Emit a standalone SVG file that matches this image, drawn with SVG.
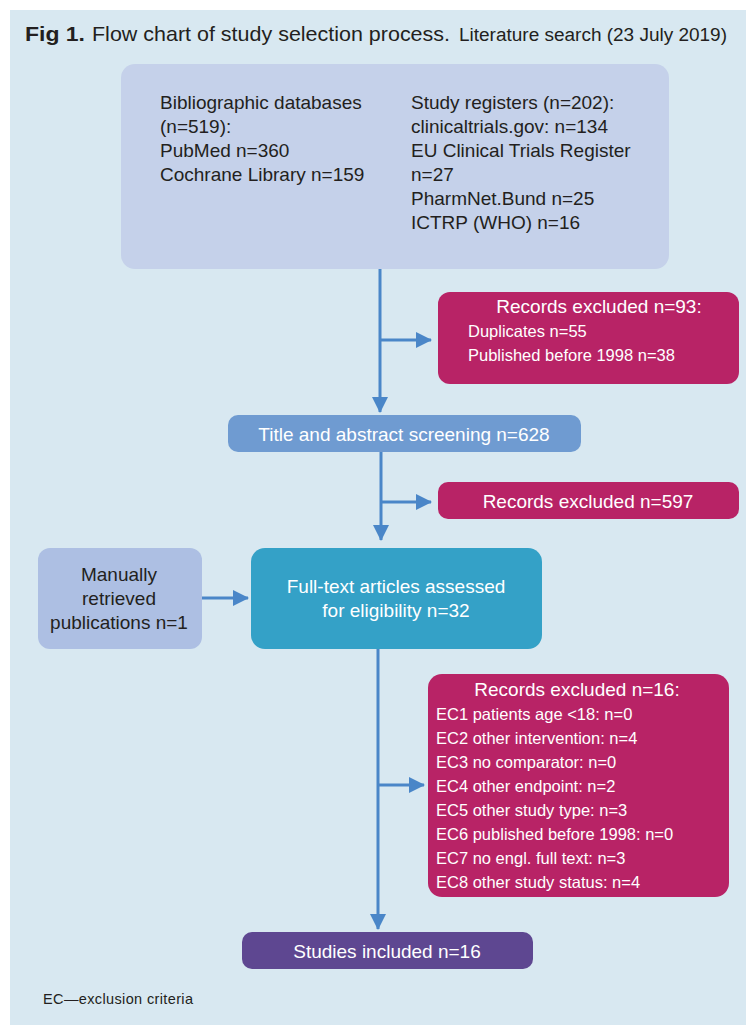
<svg xmlns="http://www.w3.org/2000/svg" width="746" height="1025" viewBox="0 0 746 1025">
<defs>
<style>
.t{font-family:"Liberation Sans",Arial,sans-serif;}
.dk{fill:#231F20;}
.wh{fill:#FFFFFF;}
.b19{font-size:19px;}
.b17{font-size:16.5px;}
.conn{stroke:#4A86C8;stroke-width:3;fill:none;}
</style>
<marker id="ah2" markerWidth="16" markerHeight="16" refX="15" refY="8" orient="auto" markerUnits="userSpaceOnUse" viewBox="0 0 16 16">
<path d="M0,0 L16,8 L0,16 Z" fill="#4A86C8"/>
</marker>
</defs>
<rect x="0" y="0" width="746" height="1025" fill="#FFFFFF"/>
<rect x="10" y="10" width="736" height="1015" fill="#D8E8F1"/>
<g id="header">
<text class="t dk" x="25" y="41" font-size="21" font-weight="bold" textLength="60" lengthAdjust="spacingAndGlyphs">Fig 1.</text>
<text class="t dk" x="92" y="41" font-size="21" textLength="358" lengthAdjust="spacingAndGlyphs">Flow chart of study selection process.</text>
<text class="t dk" x="459" y="41" font-size="18" textLength="268" lengthAdjust="spacingAndGlyphs">Literature search (23 July 2019)</text>
</g>
<g id="connectors">
<line class="conn" x1="380" y1="269" x2="380" y2="412" marker-end="url(#ah2)"/>
<line class="conn" x1="380" y1="340" x2="431" y2="340" marker-end="url(#ah2)"/>
<line class="conn" x1="381" y1="452" x2="381" y2="540" marker-end="url(#ah2)"/>
<line class="conn" x1="381" y1="502" x2="431" y2="502" marker-end="url(#ah2)"/>
<line class="conn" x1="202" y1="598" x2="248" y2="598" marker-end="url(#ah2)"/>
<line class="conn" x1="378" y1="649" x2="378" y2="929" marker-end="url(#ah2)"/>
<line class="conn" x1="378" y1="785" x2="424" y2="785" marker-end="url(#ah2)"/>
</g>
<g id="sources">
<rect x="121" y="64" width="548" height="205" rx="14" fill="#C5D1EA"/>
<text class="t dk b19" x="160" y="109">Bibliographic databases</text>
<text class="t dk b19" x="160" y="133">(n=519):</text>
<text class="t dk b19" x="160" y="157">PubMed n=360</text>
<text class="t dk b19" x="160" y="181">Cochrane Library n=159</text>
<text class="t dk b19" x="411" y="109">Study registers (n=202):</text>
<text class="t dk b19" x="411" y="133">clinicaltrials.gov: n=134</text>
<text class="t dk b19" x="411" y="157">EU Clinical Trials Register</text>
<text class="t dk b19" x="411" y="181">n=27</text>
<text class="t dk b19" x="411" y="205">PharmNet.Bund n=25</text>
<text class="t dk b19" x="411" y="229">ICTRP (WHO) n=16</text>
</g>
<g id="excluded1">
<rect x="438" y="292" width="301" height="92" rx="12" fill="#B82366"/>
<text class="t wh b19" x="599" y="313" text-anchor="middle">Records excluded n=93:</text>
<text class="t wh b17" x="468" y="337">Duplicates n=55</text>
<text class="t wh b17" x="468" y="361">Published before 1998 n=38</text>
</g>
<g id="screening">
<rect x="228" y="415" width="353" height="37" rx="10" fill="#6F9BD1"/>
<text class="t wh b19" x="404" y="441" text-anchor="middle">Title and abstract screening n=628</text>
</g>
<g id="excluded2">
<rect x="438" y="482" width="301" height="37" rx="10" fill="#B82366"/>
<text class="t wh b19" x="588" y="508" text-anchor="middle">Records excluded n=597</text>
</g>
<g id="manual">
<rect x="38" y="548" width="164" height="101" rx="12" fill="#ADBFE3"/>
<text class="t dk b19" x="119" y="581" text-anchor="middle">Manually</text>
<text class="t dk b19" x="119" y="605" text-anchor="middle">retrieved</text>
<text class="t dk b19" x="119" y="629" text-anchor="middle">publications n=1</text>
</g>
<g id="fulltext">
<rect x="251" y="548" width="291" height="101" rx="14" fill="#34A1C7"/>
<text class="t wh b19" x="396" y="593" text-anchor="middle">Full-text articles assessed</text>
<text class="t wh b19" x="396" y="617" text-anchor="middle">for eligibility n=32</text>
</g>
<g id="excluded3">
<rect x="428" y="674" width="301" height="223" rx="14" fill="#B82366"/>
<text class="t wh b19" x="577" y="696" text-anchor="middle">Records excluded n=16:</text>
<text class="t wh b17" x="436" y="720">EC1 patients age &lt;18: n=0</text>
<text class="t wh b17" x="436" y="744">EC2 other intervention: n=4</text>
<text class="t wh b17" x="436" y="768">EC3 no comparator: n=0</text>
<text class="t wh b17" x="436" y="792">EC4 other endpoint: n=2</text>
<text class="t wh b17" x="436" y="816">EC5 other study type: n=3</text>
<text class="t wh b17" x="436" y="840">EC6 published before 1998: n=0</text>
<text class="t wh b17" x="436" y="864">EC7 no engl. full text: n=3</text>
<text class="t wh b17" x="436" y="888">EC8 other study status: n=4</text>
</g>
<g id="included">
<rect x="242" y="932" width="291" height="37" rx="10" fill="#5E4791"/>
<text class="t wh b19" x="387" y="958" text-anchor="middle">Studies included n=16</text>
</g>
<g id="footnote">
<text class="t dk" x="43" y="1004" font-size="14.5" textLength="150" lengthAdjust="spacing">EC—exclusion criteria</text>
</g>
</svg>
